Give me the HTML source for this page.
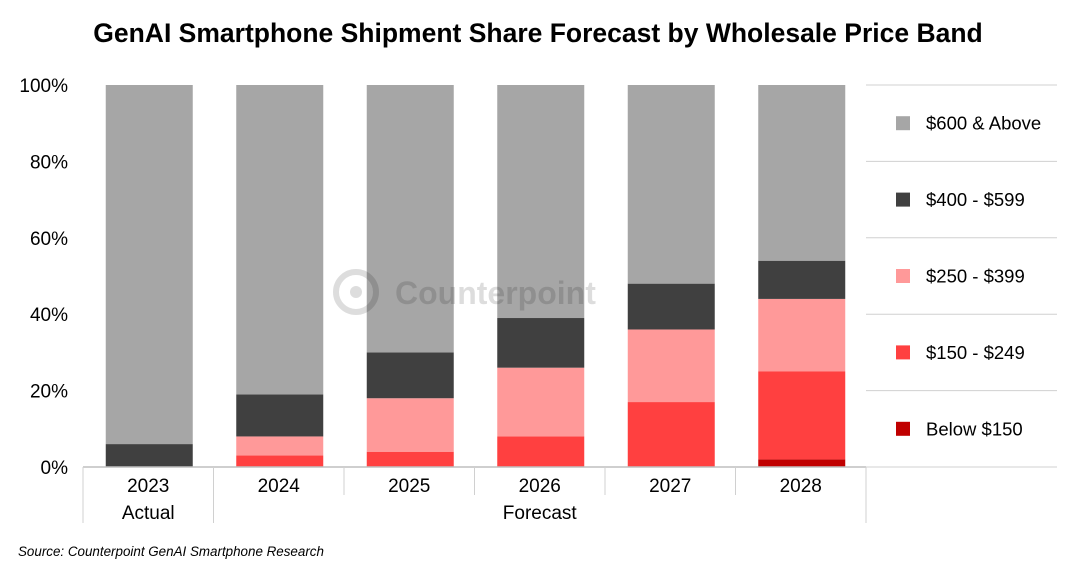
<!DOCTYPE html>
<html><head><meta charset="utf-8"><style>
body{margin:0;background:#fff;width:1073px;height:571px;overflow:hidden;font-family:"Liberation Sans",Arial,sans-serif}
</style></head><body>
<svg id="chart" width="1073" height="571" xmlns="http://www.w3.org/2000/svg" font-family="Liberation Sans, Arial, sans-serif">
<text x="538" y="42" text-anchor="middle" font-size="26.5" font-weight="bold" fill="#000">GenAI Smartphone Shipment Share Forecast by Wholesale Price Band</text>
<g id="plot"></g>
<g opacity="0.13">
<circle cx="356" cy="292" r="20" fill="none" stroke="#000" stroke-width="6"/>
<circle cx="356" cy="292" r="6" fill="#000"/>
<text x="395" y="304" font-size="32" font-weight="bold" fill="#000">Counterpoint</text>
</g>
<text x="18" y="556" font-size="13.4" font-style="italic" fill="#000">Source: Counterpoint GenAI Smartphone Research</text>
</svg>
<script>
const categories = ["2023","2024","2025","2026","2027","2028"];
const seriesNames = ["Below $150","$150 - $249","$250 - $399","$400 - $599","$600 & Above"];
const seriesColors = ["#c00000","#ff4040","#ff9999","#404040","#a6a6a6"];
const below150 = [0,0,0,0,0,2];
const p150_249 = [0,3,4,8,17,23];
const p250_399 = [0,5,14,18,19,19];
const p400_599 = [6,11,12,13,12,10];
const p600up = [94,81,70,61,52,46];
const yTicks = [0,20,40,60,80,100];
const groups = [{label:"Actual",from:0,to:1},{label:"Forecast",from:1,to:6}];

const NS="http://www.w3.org/2000/svg";
const g=document.getElementById('plot');
const x0=83,x1=866,yBase=467,yTop=85;
const bw=(x1-x0)/categories.length;
const y=v=>yBase-(v/100)*(yBase-yTop);
const xc=i=>x0+bw*(i+0.5)+1;
function mk(t,a,txt){const e=document.createElementNS(NS,t);for(const k in a)e.setAttribute(k,a[k]);if(txt!==undefined)e.textContent=txt;g.appendChild(e);return e;}
yTicks.forEach(t=>{
 const e=mk('text',{x:68,y:y(t)+7,'text-anchor':'end','font-size':19,fill:'#000'},t+'%');
 
 
});
const series=[below150,p150_249,p250_399,p400_599,p600up];
categories.forEach((c,i)=>{
 let cum=0;
 series.forEach((s,k)=>{
  const v=s[i]; if(v<=0){return;}
  const r=mk('rect',{x:xc(i)-43.5,y:y(cum+v),width:87,height:y(cum)-y(cum+v),fill:seriesColors[k]});
  
  
  cum+=v;
 });
 const l=mk('text',{x:xc(i)-1,y:yBase+25,'text-anchor':'middle','font-size':19,fill:'#000'},c);
 
 
});
const ax=mk('line',{x1:x0,y1:yBase,x2:x1,y2:yBase,stroke:'#bfbfbf','stroke-width':1.5});


for(let i=0;i<=categories.length;i++){
 const isGroupEdge=groups.some(gr=>gr.from===i)||i===categories.length;
 const ln=mk('line',{x1:x0+bw*i,y1:yBase,x2:x0+bw*i,y2:isGroupEdge?523:495,stroke:'#d0d0d0','stroke-width':1});
 
 
}
groups.forEach(gr=>{
 const t=mk('text',{x:x0+bw*(gr.from+gr.to)/2,y:519,'text-anchor':'middle','font-size':19,fill:'#000'},gr.label);
 
 
});
const lx0=866,lx1=1057,lTop=85,lStep=(467-85)/5;
for(let k=0;k<=5;k++){
 const ln=mk('line',{x1:lx0,y1:lTop+lStep*k,x2:lx1,y2:lTop+lStep*k,stroke:'#d0d0d0','stroke-width':1});
 
 
}
for(let j=0;j<5;j++){
 const k=4-j, cy=lTop+lStep*(j+0.5);
 const s=mk('rect',{x:896,y:cy-7,width:14,height:14,fill:seriesColors[k]});
 
 
 const t=mk('text',{x:926,y:cy+6.5,'font-size':18.5,fill:'#000'},seriesNames[k]);
 
 
}
</script>
</body></html>
